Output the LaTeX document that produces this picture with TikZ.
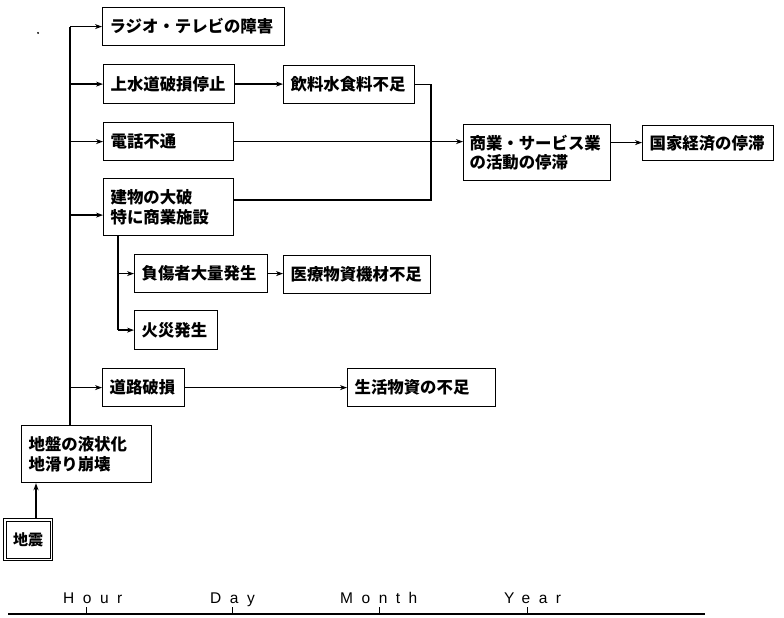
\documentclass[tikz,border=0pt]{standalone}
\usepackage{fontspec}
\setmainfont{Liberation Sans}
\newfontfamily\jp{Noto Sans CJK JP}
\newfontfamily\lat{Liberation Sans}[LetterSpace=55]
\usetikzlibrary{arrows.meta,calc}
\begin{document}
\begin{tikzpicture}[x=1pt,y=-1pt,
  box/.style={draw, line width=1.2pt, anchor=north west, inner xsep=7pt, inner ysep=0pt,
    align=left, font=\jp\bfseries\fontsize{16.4}{19.5}\selectfont},
  conn/.style={line width=1.4pt},
  arr/.style={conn, -{Stealth[length=7pt,width=5pt]}},
  scalelbl/.style={anchor=base west, inner sep=0pt, font=\lat\fontsize{15.5}{18}\selectfont},
]
\useasboundingbox (0,0) rectangle (784,618);

% boxes
\node[box, text width=168, minimum height=38] (radio)   at (102,7)   {ラジオ・テレビの障害};
\node[box, text width=117, minimum height=39] (water)   at (103,64)  {上水道破損停止};
\node[box, text width=117, minimum height=38] (drink)   at (283,65)  {飲料水食料不足};
\node[box, text width=116, minimum height=38] (phone)   at (103,122) {電話不通};
\node[box, text width=116, minimum height=57] (bldg)    at (103,178) {建物の大破\\特に商業施設};
\node[box, text width=135, minimum height=56, inner xsep=6pt] (comm) at (463,124) {商業・サービス業\\の活動の停滞};
\node[box, text width=117, minimum height=35] (nation)  at (642,125) {国家経済の停滞};
\node[box, text width=119, minimum height=38] (injury)  at (134,254) {負傷者大量発生};
\node[box, text width=133, minimum height=38] (medical) at (283,255) {医療物資機材不足};
\node[box, text width=69,  minimum height=39] (fire)    at (134,310) {火災発生};
\node[box, text width=68,  minimum height=38] (road)    at (102,368) {道路破損};
\node[box, text width=134, minimum height=38] (living)  at (347,368) {生活物資の不足};
\node[box, text width=116, minimum height=57] (ground)  at (21,425)  {地盤の液状化\\地滑り崩壊};
\node[box, text width=35, minimum height=42, align=center, line width=1pt,
      font=\jp\bfseries\fontsize{15}{18}\selectfont] (quake) at (3,518) {地震};
\draw[line width=1pt] ($(quake.north west)+(3,3)$) rectangle ($(quake.south east)+(-3,-3)$);

% trunk
\coordinate (trunk) at (70,0);
\coordinate (sub) at (118,0);
\coordinate (merge) at (431,0);
\draw[conn] (trunk |- radio.west) -- (trunk |- ground.north);
\draw[arr] (trunk |- radio.west) -- (radio.west);
\draw[arr] (trunk |- water.west) -- (water.west);
\draw[arr] (trunk |- phone.west) -- (phone.west);
\draw[arr] ($(trunk |- bldg.west)+(0,8)$) -- ($(bldg.west)+(0,8)$);
\draw[arr] (trunk |- road.west) -- (road.west);

% building sub-branch
\draw[conn] (sub |- bldg.south) -- (sub |- fire.west);
\draw[arr] (sub |- injury.west) -- (injury.west);
\draw[arr] (sub |- fire.west) -- (fire.west);
\draw[arr] (injury.east) -- (medical.west |- injury.east);

% water chain
\draw[arr] (water.east) -- (drink.west |- water.east);
\draw[conn] (drink.east) -- (merge |- drink.east) -- ($(merge |- bldg.east)+(0,-7)$) -- ($(bldg.east)+(0,-7)$);
\draw[arr] (phone.east) -- (comm.west |- phone.east);
\draw[arr] ($(comm.east)+(0,-10)$) -- (nation.west |- {$(comm.east)+(0,-10)$});
\draw[arr] (road.east) -- (living.west |- road.east);

% earthquake
\draw[arr] (quake.north -| 36,0) -- (ground.south -| 36,0);

% stray dot
\fill (38,33) circle (1pt);

% time scale
\coordinate (axL) at (8,614);
\coordinate (axR) at (705,614);
\draw[line width=1.4pt] (axL) -- (axR);
\node[scalelbl] (hour)  at (63,603)  {Hour};
\node[scalelbl] (day)   at (210,603) {Day};
\node[scalelbl] (month) at (340,603) {Month};
\node[scalelbl] (year)  at (504,603) {Year};
\foreach \t in {86,232,379,527} \draw[line width=1pt] (\t,614) -- (\t,607);
\end{tikzpicture}
\end{document}
